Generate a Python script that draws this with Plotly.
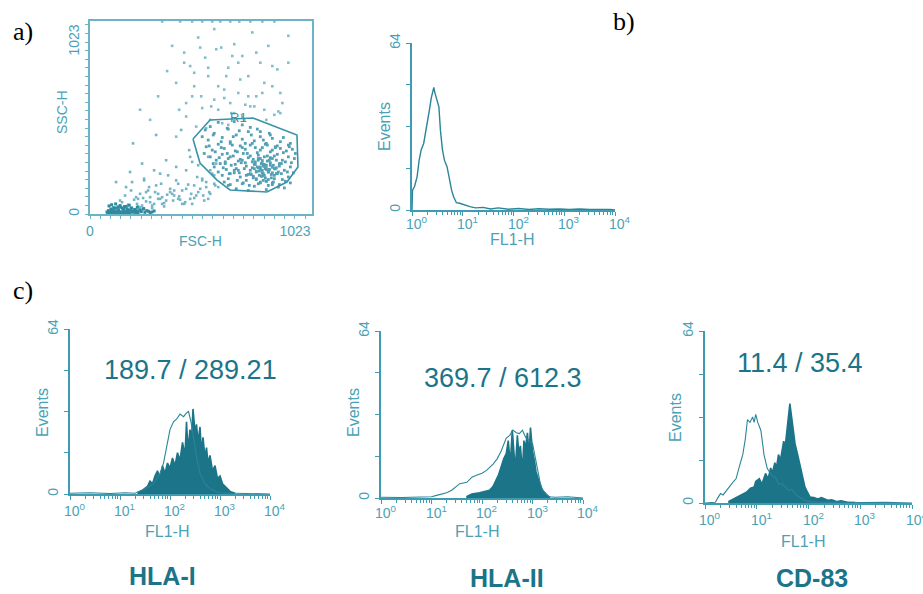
import plotly.graph_objects as go
import math

W, H = 923, 594

# ---------------- DATA ----------------
# Panel a: FSC-H / SSC-H dot plot (values in channel units 0..1023)
fsc_debris = [85, 92, 98, 104, 110, 115, 120, 126, 131, 137, 142, 148, 153, 158, 164, 170, 176, 181, 187, 193,
              199, 205, 212, 218, 225, 232, 240, 248, 256, 265, 274, 283, 292, 300, 310, 320,
              95, 108, 118, 128, 140, 150, 162, 172, 185, 196, 208, 222, 236, 250, 268,
              88, 100, 113, 124, 135, 146, 157, 168, 179, 190, 102, 133, 161, 201, 230]
ssc_debris = [12, 20, 8, 30, 15, 22, 6, 18, 35, 10, 25, 14, 40, 9, 20, 28, 12, 45, 18, 8,
              22, 33, 15, 10, 27, 19, 8, 24, 14, 30, 10, 20, 16, 8, 12, 18,
              48, 55, 38, 60, 42, 50, 35, 44, 28, 52, 36, 25, 40, 22, 32,
              5, 4, 6, 3, 5, 4, 7, 3, 5, 4, 14, 11, 9, 6, 5]
fsc_mid = [160, 175, 190, 205, 220, 235, 250, 265, 280, 295, 310, 325, 340, 355, 370, 385, 400, 415, 430, 445,
           460, 475, 490, 505, 520, 535, 550, 565, 580, 595, 610, 625, 640,
           180, 210, 240, 270, 300, 330, 360, 390, 420, 450, 480, 510, 540, 570, 600, 630,
           200, 260, 320, 380, 440, 500, 560, 620, 230, 290, 350, 410, 470, 530, 590,
           130, 150, 215, 330, 455, 495,
           240, 280, 320, 360, 400, 440, 480, 520, 560, 600, 260, 300, 340, 380, 420, 460, 500, 540, 580, 620,
           270, 350, 430, 510, 590, 190, 220, 250, 310, 370]
ssc_mid = [70, 110, 55, 140, 85, 60, 120, 95, 75, 160, 50, 130, 90, 180, 65, 115, 150, 80, 200, 105,
           140, 70, 175, 120, 95, 220, 150, 110, 190, 130, 240, 170, 160,
           160, 190, 45, 210, 100, 170, 60, 230, 140, 85, 260, 60, 290, 80, 120, 300,
           250, 300, 260, 320, 180, 340, 210, 230, 100, 140, 90, 120, 60, 110, 90,
           190, 80, 420, 470, 500, 380,
           90, 130, 60, 100, 130, 90, 150, 170, 200, 260, 50, 70, 120, 80, 110, 60, 90, 130, 160, 180,
           200, 240, 280, 310, 340, 30, 20, 40, 35, 45]
fsc_up = [340, 385, 410, 445, 470, 500, 520, 540, 555, 575, 590, 605, 620, 640, 655, 670, 690, 705, 720, 740,
          760, 775, 790, 810, 830, 850, 870, 890, 910, 935, 960, 990,
          360, 450, 510, 560, 610, 650, 700, 745, 800, 860, 920,
          530, 600, 660, 720, 480, 580, 690, 770, 250, 300, 430, 950,
          430, 470, 510, 550, 590, 630, 670, 710, 750, 790, 830, 870, 910, 950, 990,
          560, 620, 680, 740, 800, 860, 920, 480, 520, 640, 700, 760, 820, 880, 940]
ssc_up = [700, 850, 1000, 620, 960, 880, 760, 1050, 700, 930, 820, 640, 1100, 760, 990, 690, 870, 600, 1010, 720,
          940, 650, 820, 1080, 700, 900, 620, 1000, 760, 860, 660, 1060,
          1145, 1145, 1145, 1145, 1145, 1145, 1145, 1145, 1145, 1145, 1145,
          520, 560, 540, 600, 580, 510, 530, 560, 620, 560, 460, 600,
          780, 900, 700, 990, 870, 980, 740, 940, 800, 700, 960, 780, 880, 720, 900,
          630, 680, 820, 900, 640, 720, 590, 660, 840, 620, 660, 580, 640, 560, 610]
fsc_cl = [600, 640, 690, 720, 760, 800, 850, 900,
          560, 590, 620, 660, 700, 730, 760, 790, 820, 850, 880, 910, 950, 990,
          580, 610, 640, 670, 700, 725, 750, 775, 800, 825, 850, 875, 900, 925, 950, 980, 1010,
          600, 630, 660, 690, 715, 740, 765, 790, 815, 840, 860, 885, 910, 935, 960, 990, 1020,
          620, 650, 680, 705, 730, 755, 780, 800, 820, 840, 860, 880, 900, 920, 945, 970, 1000,
          800, 815, 830, 845, 860, 875, 890, 905, 920, 935,
          810, 825, 840, 855, 870, 885, 900, 915, 930,
          660, 690, 720, 750, 780, 805, 830, 855, 880, 905, 930, 960, 990,
          690, 730, 760, 790, 820, 850, 880, 910, 940, 970,
          860, 875, 890, 850, 865, 880, 895, 845, 780, 760, 740, 940, 955, 700, 675,
          575, 615, 655, 685, 715, 745, 775, 805, 835, 865, 895, 925, 965, 1000,
          570, 595, 625, 655, 685, 710, 735, 760, 785, 810, 835, 860, 885, 910, 935, 965, 995, 1025,
          615, 645, 675, 700, 725, 750, 775, 800, 825, 850, 870, 895, 920, 945, 975, 1005,
          640, 665, 695, 720, 745, 770, 790, 810, 830, 850, 870, 890, 910, 930, 955, 985, 1015,
          670, 700, 735, 765, 795, 815, 840, 865, 890, 915, 945, 975, 1000,
          820, 835, 850, 865, 880, 895, 910, 925, 840, 870, 900, 830, 860, 890, 920, 850, 880, 910]
ssc_cl = [520, 545, 505, 550, 530, 515, 490, 470,
          460, 440, 480, 455, 430, 470, 445, 490, 435, 460, 420, 450, 430, 410,
          400, 380, 415, 390, 420, 375, 405, 385, 410, 395, 380, 415, 370, 400, 390, 375, 385,
          340, 320, 355, 330, 345, 315, 360, 335, 325, 350, 318, 345, 330, 355, 320, 340, 330,
          280, 300, 265, 290, 270, 305, 285, 260, 295, 275, 300, 265, 290, 270, 285, 260, 280,
          240, 225, 255, 230, 245, 215, 250, 235, 210, 240,
          310, 295, 320, 300, 285, 315, 305, 290, 320,
          230, 210, 245, 220, 200, 235, 205, 225, 195, 215, 240, 205, 220,
          170, 150, 180, 140, 165, 185, 145, 175, 160, 155,
          260, 270, 250, 280, 240, 290, 265, 255, 230, 320, 260, 250, 300, 240, 300,
          500, 470, 430, 510, 460, 495, 420, 470, 505, 440, 480, 395, 455, 420,
          360, 405, 370, 395, 360, 410, 370, 395, 360, 420, 365, 395, 410, 380, 405, 365, 400, 360,
          300, 335, 310, 340, 295, 325, 305, 345, 310, 330, 295, 320, 345, 300, 310, 305,
          250, 275, 240, 260, 245, 270, 235, 275, 250, 265, 230, 255, 245, 275, 240, 250, 245,
          190, 175, 200, 185, 170, 215, 180, 200, 170, 190, 175, 195, 185,
          270, 280, 265, 285, 275, 262, 278, 268, 330, 340, 335, 210, 225, 205, 230, 190, 195, 185]
gate_fsc = [514, 599, 813, 1033, 1038, 983, 883, 699, 634, 549, 514]
gate_ssc = [446, 559, 571, 470, 280, 190, 131, 143, 202, 303, 446]

# Panel b: unstained control histogram (x in log10 FL1-H decades, y in events)
b_dec = [0.0, 0.01, 0.05, 0.1, 0.14, 0.18, 0.23, 0.28, 0.34, 0.38, 0.43, 0.45, 0.48, 0.51, 0.53, 0.56, 0.6, 0.64,
         0.69, 0.73, 0.78, 0.82, 0.875, 0.94, 1.04, 1.14, 1.25, 1.4, 1.55, 1.7, 1.9, 2.1, 2.3, 2.5, 2.7, 2.9,
         3.1, 3.3, 3.5, 3.7, 3.9, 4.0]
b_cnt = [0, 7.6, 9, 12.7, 19, 23, 25.5, 32, 38, 43, 47, 45, 43, 41, 39.5, 30.6, 23, 19,
         16.6, 12.7, 7.6, 5.1, 2.8, 2.6, 1.9, 1.3, 0.8, 1.0, 0.4, 0.8, 0.3, 0.6, 0.2, 0.5, 0.3, 0.4,
         0.2, 0.4, 0.2, 0.3, 0.2, 0]

# Panel c: isotype (outline) and marker (filled) histograms
hla1_iso_dec = [0.0, 0.4, 0.8, 1.1, 1.3, 1.4, 1.53, 1.67, 1.8, 1.87, 1.93, 2.0, 2.07, 2.13, 2.2, 2.27, 2.33, 2.37,
                2.42, 2.47, 2.53, 2.6, 2.7, 2.8, 2.87, 2.97, 3.1, 3.4, 3.7, 4.0]
hla1_iso_cnt = [0.3, 0.5, 0.2, 0.5, 0.3, 1, 2.2, 4, 8, 12, 18, 25, 28, 29, 31, 30, 31.5, 32,
                28, 22, 14.5, 8, 4, 2, 1.5, 0.5, 0.4, 0.3, 0.2, 0]
hla1_mk_dec = [1.35, 1.45, 1.55, 1.6, 1.65, 1.7, 1.75, 1.8, 1.85, 1.9, 1.95, 2.0, 2.05, 2.1, 2.15, 2.2, 2.25, 2.3,
               2.33, 2.36, 2.4, 2.43, 2.46, 2.5, 2.53, 2.56, 2.6, 2.63, 2.66, 2.7, 2.73, 2.76, 2.8, 2.85, 2.9,
               2.95, 3.0, 3.05, 3.1, 3.2, 3.3]
hla1_mk_cnt = [0.5, 1.5, 3, 5, 4, 7, 9, 6, 11, 8, 12, 10, 14, 11, 16, 13, 20, 15,
               28, 17, 25, 21, 33, 24, 27, 20, 26, 16, 22, 14, 18, 12, 15, 9, 11,
               6, 7, 4, 3, 1, 0.3]

hla2_iso_dec = [0.0, 0.4, 0.8, 1.0, 1.1, 1.2, 1.3, 1.4, 1.56, 1.7, 1.8, 1.89, 2.0, 2.09, 2.22, 2.3, 2.38, 2.48,
                2.55, 2.61, 2.68, 2.74, 2.8, 2.87, 2.94, 3.0, 3.05, 3.1, 3.15, 3.2, 3.27, 3.33, 3.45, 3.7, 4.0]
hla2_iso_cnt = [0.3, 0.2, 0.4, 0.5, 1, 1.5, 2, 3, 5.5, 6, 8, 8.7, 9.5, 10.6, 13, 15, 18, 23,
                24, 26, 25, 24.7, 26, 23, 22, 21, 16, 10.6, 6, 3, 1.5, 0.5, 0.3, 0.5, 0]
hla2_mk_dec = [1.69, 1.8, 1.95, 2.05, 2.15, 2.22, 2.28, 2.33, 2.38, 2.43, 2.48, 2.52, 2.56, 2.6, 2.63, 2.66,
               2.7, 2.73, 2.76, 2.8, 2.83, 2.86, 2.9, 2.93, 2.96, 3.0, 3.04, 3.07, 3.12, 3.17, 3.22, 3.27, 3.35]
hla2_mk_cnt = [0.5, 1.5, 2, 2.5, 3, 4.5, 7, 9, 12, 15, 17, 22, 13, 26, 18, 11,
               24, 17, 20, 10, 22, 19, 25, 16, 27, 18, 14, 10, 7, 4, 2.5, 1, 0.3]

cd83_iso_dec = [0.0, 0.2, 0.25, 0.3, 0.35, 0.42, 0.47, 0.55, 0.6, 0.67, 0.73, 0.78, 0.82, 0.87, 0.92, 0.95, 0.98,
                1.02, 1.08, 1.14, 1.2, 1.23, 1.3, 1.36, 1.42, 1.49, 1.55, 1.61, 1.68, 1.74, 1.8, 1.87, 1.95,
                2.05, 2.2, 2.6, 3.0, 3.5, 4.0]
cd83_iso_cnt = [0, 0.3, 2, 3.5, 3, 5, 6, 8, 9, 14, 18, 24, 31, 30, 32, 30, 33,
                30, 27, 18, 13, 12, 10, 9.7, 7, 7.2, 6, 4.7, 5, 3.5, 2.5, 1.6, 0.8,
                0.5, 0.3, 0.4, 0.2, 0.3, 0]
cd83_mk_dec = [0.45, 0.55, 0.65, 0.73, 0.8, 0.88, 0.95, 0.98, 1.05, 1.1, 1.17, 1.22, 1.27, 1.3, 1.35, 1.38, 1.42,
               1.46, 1.5, 1.52, 1.55, 1.58, 1.61, 1.64, 1.68, 1.71, 1.74, 1.79, 1.84, 1.88, 1.93, 1.98, 2.03,
               2.1, 2.18, 2.25, 2.37, 2.45, 2.55, 2.63, 2.75, 2.9]
cd83_mk_cnt = [0.5, 1.5, 2.5, 3, 4, 5.5, 6, 8, 9, 7, 11, 9, 13, 11, 15, 13, 18,
               16, 20, 23, 21, 26, 33, 37, 31, 27, 22, 18, 13.5, 10, 6, 4, 2.2,
               2, 1.5, 2, 1, 1.2, 0.5, 0.8, 0.3, 0.2]

mfi_labels = ["189.7 / 289.21", "369.7 / 612.3", "11.4 / 35.4"]
marker_names = ["HLA-I", "HLA-II", "CD-83"]
decade_vals = [1, 10, 100, 1000, 10000]
decade_text = ["10<sup>0</sup>", "10<sup>1</sup>", "10<sup>2</sup>", "10<sup>3</sup>", "10<sup>4</sup>"]
minor_vals = [m * d for d in [1, 10, 100, 1000] for m in range(2, 10)]
events_ticks = [0, 16, 32, 48, 64]
events_text = ["0", "", "", "", "64"]

# ---------------- STYLE ----------------
AX = "#3f9bb0"
TXT = "#4ba2b6"
DARK = "#1c7489"
LINE = "#2a8599"
FRAME = "#6cb4c5"
SANS = "Liberation Sans, Arial, sans-serif"
SERIF = "Liberation Serif, Times New Roman, serif"


def fx(p):
    return p / W


def fy(p):
    return 1 - p / H


fig = go.Figure()

# Panel a traces
fig.add_trace(go.Scatter(x=fsc_up, y=ssc_up, mode="markers", xaxis="x", yaxis="y",
                         marker=dict(symbol="square", size=2.6, color="#80bece", line=dict(width=0))))
fig.add_trace(go.Scatter(x=fsc_mid, y=ssc_mid, mode="markers", xaxis="x", yaxis="y",
                         marker=dict(symbol="square", size=2.6, color="#72b5c6", line=dict(width=0))))
fig.add_trace(go.Scatter(x=fsc_cl, y=ssc_cl, mode="markers", xaxis="x", yaxis="y",
                         marker=dict(symbol="square", size=2.8, color="#539fb3", line=dict(width=0))))
fig.add_trace(go.Scatter(x=fsc_debris, y=ssc_debris, mode="markers", xaxis="x", yaxis="y",
                         marker=dict(symbol="square", size=3, color="#2f8aa0", line=dict(width=0))))
fig.add_trace(go.Scatter(x=gate_fsc, y=gate_ssc, mode="lines", xaxis="x", yaxis="y",
                         line=dict(color="#3a93a8", width=1.6)))

# Panel b
fig.add_trace(go.Scatter(x=[10 ** v for v in b_dec], y=b_cnt, mode="lines", xaxis="x2", yaxis="y2",
                         line=dict(color=LINE, width=1.4)))

# Panel c
hists = [(hla1_iso_dec, hla1_iso_cnt, hla1_mk_dec, hla1_mk_cnt),
         (hla2_iso_dec, hla2_iso_cnt, hla2_mk_dec, hla2_mk_cnt),
         (cd83_iso_dec, cd83_iso_cnt, cd83_mk_dec, cd83_mk_cnt)]
for i, (idec, icnt, mdec, mcnt) in enumerate(hists):
    xa, ya = "x%d" % (i + 3), "y%d" % (i + 3)
    fig.add_trace(go.Scatter(x=[10 ** v for v in mdec], y=mcnt, mode="lines", xaxis=xa, yaxis=ya,
                             fill="tozeroy", fillcolor=DARK, line=dict(color=DARK, width=1.6)))
    fig.add_trace(go.Scatter(x=[10 ** v for v in idec], y=icnt, mode="lines", xaxis=xa, yaxis=ya,
                             line=dict(color=LINE, width=1.1)))

# ---------------- LAYOUT ----------------
tickfont_a = dict(family=SANS, size=14, color=TXT)

layout = dict(width=W, height=H, margin=dict(l=0, r=0, t=0, b=0, autoexpand=False), showlegend=False,
              paper_bgcolor="white", plot_bgcolor="white")

layout["xaxis"] = dict(domain=[fx(90), fx(312)], range=[0, 1108], anchor="y", showgrid=False, zeroline=False,
                       automargin=False, showline=True, mirror=True, linecolor=FRAME, linewidth=2,
                       tickmode="array", tickvals=[0, 1023], ticktext=["0", "1023"], ticks="outside",
                       ticklen=3, tickcolor=FRAME, tickfont=tickfont_a,
                       minor=dict(tickmode="linear", tick0=0, dtick=51.15, ticks="outside", ticklen=3,
                                  tickcolor=FRAME))
layout["yaxis"] = dict(domain=[fy(214), fy(21)], range=[0, 1148], anchor="x", showgrid=False, zeroline=False,
                       automargin=False, showline=True, mirror=True, linecolor=FRAME, linewidth=2,
                       tickmode="array", tickvals=[0, 1023], ticktext=["0", "1023"], ticks="outside",
                       ticklen=3, tickcolor=FRAME, tickangle=-90, tickfont=tickfont_a,
                       minor=dict(tickmode="linear", tick0=0, dtick=51.15, ticks="outside", ticklen=3,
                                  tickcolor=FRAME))

hist_domains = [([412, 615], [43, 210]),
                ([70, 270], [329, 494]),
                ([381, 583], [331, 498]),
                ([705, 912], [331, 503])]
for k, (xd, yd) in enumerate(hist_domains):
    n = k + 2
    layout["xaxis%d" % n] = dict(domain=[fx(xd[0]), fx(xd[1])], type="log", range=[0, 4], anchor="y%d" % n,
                                 showgrid=False, zeroline=False, automargin=False, showline=True,
                                 linecolor=AX, linewidth=2,
                                 tickmode="array", tickvals=decade_vals, ticktext=[""] * 5,
                                 ticks="outside", ticklen=4, tickcolor=AX,
                                 minor=dict(tickmode="array", tickvals=minor_vals, ticks="outside", ticklen=3,
                                            tickcolor=AX))
    layout["yaxis%d" % n] = dict(domain=[fy(yd[1]), fy(yd[0])], range=[0, 64], anchor="x%d" % n,
                                 showgrid=False, zeroline=False, automargin=False, showline=True,
                                 linecolor=AX, linewidth=2,
                                 tickmode="array", tickvals=events_ticks, ticktext=events_text,
                                 ticks="outside", ticklen=4, tickcolor=AX, tickangle=-90,
                                 tickfont=dict(family=SANS, size=14, color=TXT))
fig.update_layout(**layout)

ann = []


def add_text(x, y, text, size, color, angle=0, family=SANS, xanchor="center", yanchor="middle"):
    ann.append(dict(x=fx(x), y=fy(y), xref="paper", yref="paper", text=text, showarrow=False,
                    font=dict(family=family, size=size, color=color), textangle=angle,
                    xanchor=xanchor, yanchor=yanchor))


add_text(11, 31, "a)", 26, "black", family=SERIF, xanchor="left")
add_text(611, 22, "b)", 26, "black", family=SERIF, xanchor="left")
add_text(11, 290, "c)", 26, "black", family=SERIF, xanchor="left")

# panel a labels
add_text(62, 112, "SSC-H", 14, TXT, angle=-90)
add_text(200, 241, "FSC-H", 14, TXT)
add_text(239, 117, "R1", 13, "#3a93a8")

# decade tick labels for the log axes (placed on each x axis' own scale)
label_y = [223, 510, 512, 519]
for k in range(4):
    for v, t in zip(decade_vals, decade_text):
        ann.append(dict(x=math.log10(v), y=fy(label_y[k]), xref="x%d" % (k + 2), yref="paper", text=t,
                        showarrow=False, xanchor="left", xshift=-8, yanchor="middle",
                        font=dict(family=SANS, size=14, color=TXT)))

# panel b labels
add_text(385, 127, "Events", 16, TXT, angle=-90)
add_text(512, 240, "FL1-H", 16, TXT)

# panel c labels
ev_pos = [(42, 413), (353, 413), (675, 418)]
fl_pos = [(167, 531), (477, 531), (803, 541)]
mfi_pos = [(190, 370), (503, 378), (800, 363)]
name_pos = [(162, 592), (507, 594), (812, 594)]
for i in range(3):
    add_text(ev_pos[i][0], ev_pos[i][1], "Events", 16, TXT, angle=-90)
    add_text(fl_pos[i][0], fl_pos[i][1], "FL1-H", 16, TXT)
    add_text(mfi_pos[i][0], mfi_pos[i][1], mfi_labels[i], 27, DARK)
    add_text(name_pos[i][0], name_pos[i][1], "<b>%s</b>" % marker_names[i], 25, DARK, yanchor="bottom")

fig.update_layout(annotations=ann)
fig.write_html("out.html")
